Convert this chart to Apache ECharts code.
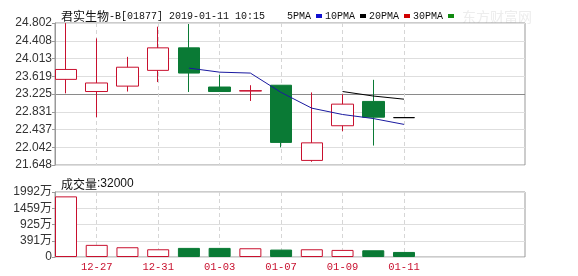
<!DOCTYPE html>
<html><head><meta charset="utf-8">
<script src="https://cdn.jsdelivr.net/npm/echarts@6/dist/echarts.min.js"></script>
<style>html,body{margin:0;padding:0;background:#fff}#c{width:578px;height:276px}</style>
</head><body><div id="c"></div>
<script>
// ---- data ----
const dates   = ['12-24','12-27','12-28','12-31','01-02','01-03','01-04','01-07','01-08','01-09','01-10','01-11'];
const opens   = [23.55,23.28,23.40,23.75,24.25,23.38,23.29,23.42,21.75,22.52,23.06,22.70];
const closes  = [23.77,23.47,23.82,24.25,23.69,23.28,23.30,22.15,22.14,23.00,22.71,22.70];
const lows    = [23.24,22.71,23.28,23.49,23.27,23.28,23.07,22.04,21.72,22.40,22.08,22.70];
const highs   = [24.80,24.46,24.05,24.72,24.78,23.65,23.42,23.42,23.26,23.22,23.54,22.70];
const volumes = [1858,372,299,237,279,279,268,227,237,217,206,155]; // 万
const ma5     = [null,null,null,null,23.80,23.71,23.69,23.26,22.91,22.77,22.68,22.55];
const ma10    = [null,null,null,null,null,null,null,null,null,23.28,23.18,23.11];
const ma20    = [];
const ma30    = [];
const priceTicks = ['21.648','22.042','22.437','22.831','23.225','23.619','24.013','24.408','24.802'];
const volTicks   = ['0','391万','925万','1459万','1992万'];
const priceMin = 21.648, priceMax = 24.802, volMax = 1992;
const legendNames = ['5PMA','10PMA','20PMA','30PMA'];

// ---- styling ----
const RED = '#c8102e', GREEN = '#0a7a35';
const PAD_BEFORE = 1, PAD_AFTER = 4;
const cats = Array(PAD_BEFORE).fill('').concat(dates, Array(PAD_AFTER).fill(''));
const pad = arr => Array(PAD_BEFORE).fill('-').concat(arr);
const showIdx = (i) => { const j = i - PAD_BEFORE; return j >= 0 && j < dates.length && j % 2 === 1; };

const step = 30.727, firstX = 66;
const dataLeft = firstX - step;
const dataRight = 578 - (dataLeft + (cats.length - 1) * step);

const candleData = pad(dates.map((d, i) => [opens[i], closes[i], lows[i], highs[i]]));
const volData = pad(volumes.map((v, i) => {
  const up = closes[i] > opens[i];
  return { value: v, itemStyle: up ? { color: '#fff', borderColor: RED, borderWidth: 1 } : { color: GREEN, borderColor: GREEN, borderWidth: 1 } };
}));
const lineData = arr => pad(arr.map(v => v == null ? '-' : v));

const splitCols = priceTicks.map((t, i) => i === 4 ? '#8a8a8a' : '#dedede');
const cjk = { fontFamily: 'Noto Sans CJK SC', fontSize: 12, color: '#111', fontWeight: 'normal' };

const chart = echarts.init(document.getElementById('c'), null, { renderer: 'canvas' });
chart.setOption({
  animation: false,
  backgroundColor: '#fff',
  title: [
    { left: 56, top: 5, text: '{c|君实生物}{m|-B[01877] 2019-01-11 10:15}',
      textStyle: { fontWeight: 'normal', rich: { c: cjk, m: { fontFamily: 'Liberation Mono', fontSize: 10, color: '#111', fontWeight: 'normal' } } } },
    { left: 56, top: 173, text: '{c|成交量}{m|:32000}',
      textStyle: { fontWeight: 'normal', rich: { c: cjk, m: { fontFamily: 'Liberation Sans', fontSize: 12, color: '#111', fontWeight: 'normal' } } } }
  ],
  legend: {
    left: 282, top: 6, align: 'right', icon: 'rect', itemWidth: 6, itemHeight: 4, itemGap: 3,
    selectedMode: false,
    textStyle: { fontFamily: 'Liberation Mono', fontSize: 10, color: '#111' },
    data: legendNames
  },
  graphic: [
    { type: 'text', left: 462, top: 10, z: -1, style: { text: '东方财富网', fill: '#ededed', font: '14px "Noto Sans CJK SC"' } }
  ],
  grid: [
    { left: 55, right: 53, top: 23, height: 142, show: true, borderColor: '#999', borderWidth: 1, backgroundColor: 'transparent' },
    { left: dataLeft, right: dataRight, top: 23, height: 142 },
    { left: 55, right: 53, top: 192, height: 65, show: true, borderColor: '#999', borderWidth: 1, backgroundColor: 'transparent' },
    { left: dataLeft, right: dataRight, top: 192, height: 65 }
  ],
  xAxis: [
    { gridIndex: 0, type: 'value', min: 0, max: 1, show: false },
    { gridIndex: 1, type: 'category', data: cats, boundaryGap: false,
      axisLine: { show: false }, axisTick: { show: false }, axisLabel: { show: false },
      splitLine: { show: true, interval: showIdx, lineStyle: { color: '#d6d6d6', type: [4, 3] } } },
    { gridIndex: 2, type: 'value', min: 0, max: 1, show: false },
    { gridIndex: 3, type: 'category', data: cats, boundaryGap: false,
      axisLine: { show: false }, axisTick: { show: false },
      axisLabel: { interval: showIdx, color: RED, fontFamily: 'Liberation Mono', fontSize: 10.5, margin: 5 },
      splitLine: { show: true, interval: showIdx, lineStyle: { color: '#d6d6d6', type: [4, 3] } } }
  ],
  yAxis: [
    { gridIndex: 0, type: 'value', min: 0, max: priceTicks.length - 1, interval: 1,
      axisLine: { show: true, lineStyle: { color: '#999' } },
      axisTick: { show: true, length: 3, lineStyle: { color: '#999' } },
      axisLabel: { formatter: v => priceTicks[Math.round(v)], color: '#333', fontFamily: 'Liberation Sans', fontSize: 12, margin: 3 },
      splitLine: { show: true, lineStyle: { color: splitCols, width: 1 } } },
    { gridIndex: 1, type: 'value', min: priceMin, max: priceMax, show: false },
    { gridIndex: 2, type: 'value', min: 0, max: volTicks.length - 1, interval: 1,
      axisLine: { show: true, lineStyle: { color: '#999' } },
      axisTick: { show: true, length: 3, lineStyle: { color: '#999' } },
      axisLabel: { formatter: v => volTicks[Math.round(v)], color: '#333', fontFamily: 'Liberation Sans, Noto Sans CJK SC', fontSize: 12, margin: 3 },
      splitLine: { show: true, lineStyle: { color: '#dedede', width: 1 } } },
    { gridIndex: 3, type: 'value', min: 0, max: volMax, show: false }
  ],
  series: [
    { type: 'candlestick', xAxisIndex: 1, yAxisIndex: 1, barWidth: 22, clip: false,
      itemStyle: { color: '#fff', color0: GREEN, borderColor: RED, borderColor0: GREEN, borderColorDoji: '#000', borderWidth: 1 },
      data: candleData },
    { type: 'bar', xAxisIndex: 3, yAxisIndex: 3, barWidth: 22, data: volData },
    { name: legendNames[0], type: 'line', xAxisIndex: 1, yAxisIndex: 1, showSymbol: false, symbol: 'none',
      itemStyle: { color: '#1010d0' }, lineStyle: { color: '#1a1aa0', width: 1 }, data: lineData(ma5) },
    { name: legendNames[1], type: 'line', xAxisIndex: 1, yAxisIndex: 1, showSymbol: false, symbol: 'none',
      itemStyle: { color: '#000' }, lineStyle: { color: '#000', width: 1 }, data: lineData(ma10) },
    { name: legendNames[2], type: 'line', xAxisIndex: 1, yAxisIndex: 1, showSymbol: false, symbol: 'none',
      itemStyle: { color: '#d00000' }, lineStyle: { color: '#d00000', width: 1 }, data: ma20 },
    { name: legendNames[3], type: 'line', xAxisIndex: 1, yAxisIndex: 1, showSymbol: false, symbol: 'none',
      itemStyle: { color: '#108a10' }, lineStyle: { color: '#108a10', width: 1 }, data: ma30 }
  ]
});
</script>
</body></html>
